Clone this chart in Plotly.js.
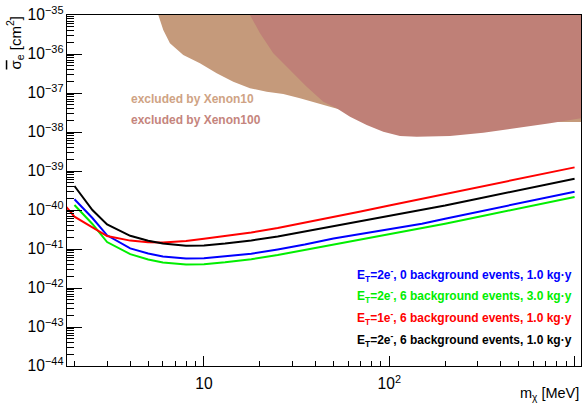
<!DOCTYPE html>
<html>
<head>
<meta charset="utf-8">
<script src="https://cdn.plot.ly/plotly-3.0.1.min.js"></script>
<style>html,body{margin:0;padding:0;background:#fff;}#plot{width:583px;height:405px;}</style>
</head>
<body>
<div id="plot"></div>
<script>
// ---- data ----
const massMeV = [2, 2.5, 3, 4, 5, 6, 8, 10, 13, 18, 25, 35, 50, 70, 100, 150, 200, 300, 500, 700, 1000];
const massRed = [1.8, 2, 2.5, 3, 4, 5, 6, 8, 10, 13, 18, 25, 35, 50, 70, 100, 150, 200, 300, 500, 700, 1000];

const sigmaBlue  = [1.88e-40, 6.24e-41, 2.24e-41, 1.04e-41, 7.67e-42, 6.43e-42, 5.74e-42, 5.78e-42, 6.50e-42, 7.53e-42, 9.70e-42, 1.30e-41, 1.86e-41, 2.43e-41, 3.22e-41, 4.46e-41, 5.98e-41, 8.99e-41, 1.49e-40, 2.09e-40, 2.94e-40];
const sigmaGreen = [1.34e-40, 4.38e-41, 1.51e-41, 7.36e-42, 5.38e-42, 4.51e-42, 4.03e-42, 4.05e-42, 4.56e-42, 5.47e-42, 7.02e-42, 9.42e-42, 1.32e-41, 1.75e-41, 2.37e-41, 3.32e-41, 4.43e-41, 6.62e-41, 1.10e-40, 1.53e-40, 2.15e-40];
const sigmaRed   = [1.23e-40, 6.73e-41, 3.60e-41, 2.15e-41, 1.64e-41, 1.49e-41, 1.46e-41, 1.60e-41, 1.83e-41, 2.17e-41, 2.65e-41, 3.45e-41, 4.70e-41, 6.62e-41, 9.16e-41, 1.30e-40, 1.94e-40, 2.56e-40, 3.82e-40, 6.31e-40, 8.83e-40, 1.24e-39];
const sigmaBlack = [4.12e-40, 1.00e-40, 4.25e-41, 2.18e-41, 1.63e-41, 1.38e-41, 1.22e-41, 1.23e-41, 1.38e-41, 1.65e-41, 2.09e-41, 2.81e-41, 3.89e-41, 5.11e-41, 6.93e-41, 9.77e-41, 1.30e-40, 1.95e-40, 3.24e-40, 4.51e-40, 6.35e-40];

// exclusion region boundaries (lower edges)
const xenon10Mass  = [5.67, 6.03, 6.55, 7.73, 9.51, 11.71, 14.39, 17.71, 21.80, 26.79, 32.97, 40.57, 48.9, 69.5, 114];
const xenon10Sigma = [1e-35, 4.12e-36, 1.88e-36, 9.42e-37, 5.78e-37, 3.20e-37, 1.95e-37, 1.32e-37, 1.08e-37, 9.42e-38, 7.31e-38, 5.44e-38, 4.30e-38, 2.73e-38, 1.80e-38];
const xenon100Mass  = [17.71, 20.06, 23.66, 29.12, 35.83, 44.05, 52.0, 61.4, 75.5, 92.8, 114.2, 140.6, 212.6, 321.6, 487, 736.6, 1083, 1500];
const xenon100Sigma = [1e-35, 3.40e-36, 1.04e-36, 3.89e-37, 1.45e-37, 5.98e-38, 4.06e-38, 2.47e-38, 1.51e-38, 1.02e-38, 7.89e-39, 7.57e-39, 7.89e-39, 9.59e-39, 1.24e-38, 1.67e-38, 2.24e-38, 2.7e-38];

const legendTexts = [
  'E<sub>T</sub>=2e<sup>-</sup>, 0 background events, 1.0 kg·y',
  'E<sub>T</sub>=2e<sup>-</sup>, 6 background events, 3.0 kg·y',
  'E<sub>T</sub>=1e<sup>-</sup>, 6 background events, 1.0 kg·y',
  'E<sub>T</sub>=2e<sup>-</sup>, 6 background events, 1.0 kg·y'
];
const legendColors = ['#0000ff', '#00ee00', '#ff0000', '#000000'];

// ---- build ----
function closeTop(xs, ys, xRight) {
  const X = xs.slice(), Y = ys.slice();
  X.push(xRight, xRight, xs[0], xs[0]);
  Y.push(ys[ys.length - 1], 1e-33, 1e-33, ys[0]);
  return {x: X, y: Y};
}
const x10 = closeTop(xenon10Mass, xenon10Sigma, 2000);
const x100 = closeTop(xenon100Mass, xenon100Sigma, 2000);

const traces = [
  {x: x10.x, y: x10.y, type: 'scatter', mode: 'lines', fill: 'toself', fillcolor: '#c59a7b', line: {width: 0, color: '#c59a7b'}, hoverinfo: 'skip', showlegend: false},
  {x: x100.x, y: x100.y, type: 'scatter', mode: 'lines', fill: 'toself', fillcolor: '#bf8077', line: {width: 0, color: '#bf8077'}, hoverinfo: 'skip', showlegend: false},
  {x: massMeV, y: sigmaBlue, type: 'scatter', mode: 'lines', line: {color: '#0000ff', width: 2}, showlegend: false},
  {x: massMeV, y: sigmaGreen, type: 'scatter', mode: 'lines', line: {color: '#00ee00', width: 2}, showlegend: false},
  {x: massRed, y: sigmaRed, type: 'scatter', mode: 'lines', line: {color: '#ff0000', width: 2}, showlegend: false},
  {x: massMeV, y: sigmaBlack, type: 'scatter', mode: 'lines', line: {color: '#000000', width: 2}, showlegend: false}
];

const L = 67, R = 581, T = 15, B = 366;
const px = v => (v - L) / (R - L);
const py = v => (B - v) / (B - T);

const FONT = 'Liberation Sans, Arial, sans-serif';
const legendY = [275, 296, 318, 340];
const annotations = legendTexts.map((t, i) => ({
  text: '<b>' + t + '</b>', xref: 'paper', yref: 'paper', x: px(574), y: py(legendY[i]),
  xanchor: 'right', yanchor: 'middle', showarrow: false,
  font: {family: FONT, size: 12, color: legendColors[i]}
}));
annotations.push(
  {text: '<b>excluded by Xenon10</b>', xref: 'paper', yref: 'paper', x: px(129), y: py(99), xanchor: 'left', yanchor: 'middle', showarrow: false,
   font: {family: FONT, size: 12, color: '#cfa384'}},
  {text: '<b>excluded by Xenon100</b>', xref: 'paper', yref: 'paper', x: px(129), y: py(120), xanchor: 'left', yanchor: 'middle', showarrow: false,
   font: {family: FONT, size: 12, color: '#c5857d'}},
  {text: "<span style='text-decoration:overline'>σ</span><sub>e</sub> [cm<sup>2</sup>]", xref: 'paper', yref: 'paper', x: px(15), y: 1.0,
   xanchor: 'center', yanchor: 'top', textangle: -90, showarrow: false,
   font: {family: FONT, size: 15, color: '#000'}},
  {text: 'm<sub>χ</sub> [MeV]', xref: 'paper', yref: 'paper', x: px(581), y: py(394),
   xanchor: 'right', yanchor: 'middle', showarrow: false,
   font: {family: FONT, size: 14.5, color: '#000'}}
);

const tickFont = {family: FONT, size: 12.5, color: '#000'};
const layout = {
  width: 583, height: 405,
  margin: {l: L, r: 583 - R, t: T, b: 405 - B, pad: 0},
  paper_bgcolor: '#fff', plot_bgcolor: '#fff',
  showlegend: false,
  xaxis: {
    type: 'log', range: [Math.log10(1.823), Math.log10(1083)], dtick: 1,
    exponentformat: 'power', ticks: 'inside', ticklen: 10, tickwidth: 1, tickcolor: '#000',
    showline: true, linecolor: '#000', linewidth: 1, mirror: true, showgrid: false, zeroline: false,
    tickfont: tickFont, ticklabelstandoff: 4,
    minor: {ticks: 'inside', ticklen: 5, tickwidth: 1, tickcolor: '#000', dtick: 'D1', showgrid: false}
  },
  yaxis: {
    type: 'log', range: [-44, -35], dtick: 1,
    exponentformat: 'power', ticks: 'inside', ticklen: 15, tickwidth: 1, tickcolor: '#000',
    showline: true, linecolor: '#000', linewidth: 1, mirror: true, showgrid: false, zeroline: false,
    tickfont: tickFont,
    minor: {ticks: 'inside', ticklen: 7, tickwidth: 1, tickcolor: '#000', dtick: 'D1', showgrid: false}
  },
  annotations: annotations
};

Plotly.newPlot('plot', traces, layout, {staticPlot: true, displayModeBar: false});
</script>
</body>
</html>
